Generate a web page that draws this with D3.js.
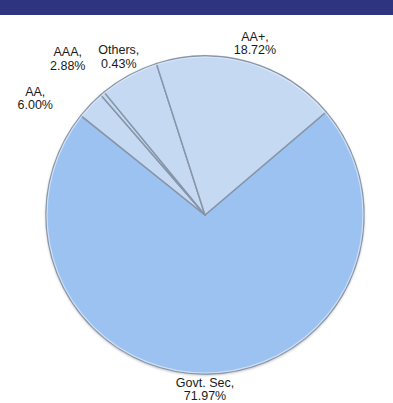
<!DOCTYPE html>
<html>
<head>
<meta charset="utf-8">
<script src="https://cdn.jsdelivr.net/npm/d3@7"></script>
<style>
  body { margin: 0; background: #fff; }
  svg { display: block; }
  text { font-family: "Liberation Sans", Arial, sans-serif; font-size: 12.5px; fill: #1a1a1a; }
</style>
</head>
<body>
<svg id="chart" width="393" height="403"></svg>
<script>
const width = 393;
const height = 403;

// slices in drawing order (clockwise)
const categories = ["Govt. Sec", "AAA", "Others", "AA", "AA+"];
const values = [71.97, 2.88, 0.43, 6.00, 18.72];
const labels = ["71.97%", "2.88%", "0.43%", "6.00%", "18.72%"];

const svg = d3.select("#chart");
const cx = 205, cy = 215, radius = 159;

// header band
svg.append("rect").attr("x", 0).attr("y", 0).attr("width", width).attr("height", 15)
  .attr("fill", "#2e3480");

const defs = svg.append("defs");
const shadow = defs.append("filter").attr("id", "shadow")
  .attr("x", "-10%").attr("y", "-10%").attr("width", "120%").attr("height", "120%");
shadow.append("feGaussianBlur").attr("in", "SourceAlpha").attr("stdDeviation", 1.5);
shadow.append("feOffset").attr("dx", 0).attr("dy", 1).attr("result", "b");
shadow.append("feComponentTransfer").append("feFuncA").attr("type", "linear").attr("slope", 0.35);
const merge = shadow.append("feMerge");
merge.append("feMergeNode");
merge.append("feMergeNode").attr("in", "SourceGraphic");

const color = d3.scaleOrdinal()
  .domain(categories)
  .range(["#9cc2f1", "#c5d9f2", "#c5d9f2", "#c5d9f2", "#c5d9f2"]);

const start = 49.6 * Math.PI / 180;
const pie = d3.pie().sort(null).value(d => d.value)
  .startAngle(start).endAngle(start + 2 * Math.PI);

const data = categories.map((c, i) => ({ name: c, value: values[i], label: labels[i] }));
const arcs = pie(data);
const arc = d3.arc().innerRadius(0).outerRadius(radius);

const g = svg.append("g").attr("transform", `translate(${cx},${cy})`);

g.append("circle").attr("r", radius).attr("fill", "#9cc2f1").attr("filter", "url(#shadow)");

g.selectAll("path.slice")
  .data(arcs).enter()
  .append("path")
  .attr("class", "slice")
  .attr("d", arc)
  .attr("fill", d => color(d.data.name))
  .attr("stroke", "#8795a8")
  .attr("stroke-width", 1.5)
  .attr("stroke-linejoin", "round");

// soft highlight rim
g.append("circle").attr("r", radius - 1).attr("fill", "none")
  .attr("stroke", "#e4eefb").attr("stroke-width", 1.2).attr("opacity", 0.7);

// label placement (polar, degrees clockwise from 12 o'clock) for the crowded left labels
const labelPlace = {
  "Govt. Sec": { angle: 180, r: 174 },
  "AAA": { angle: 318.7, r: 208 },
  "Others": { angle: 331.4, r: 180 },
  "AA": { angle: 304.5, r: 206 },
  "AA+": { angle: 16.2, r: 179 }
};

const lbl = g.selectAll("text.lbl")
  .data(arcs).enter()
  .append("text")
  .attr("class", "lbl")
  .attr("text-anchor", "middle")
  .attr("transform", d => {
    const p = labelPlace[d.data.name];
    const a = p.angle * Math.PI / 180;
    return `translate(${Math.sin(a) * p.r},${-Math.cos(a) * p.r})`;
  });
lbl.append("tspan").attr("x", 0).attr("y", -2.5).text(d => d.data.name + ",");
lbl.append("tspan").attr("x", 0).attr("y", 11).text(d => d.data.label);
</script>
</body>
</html>
